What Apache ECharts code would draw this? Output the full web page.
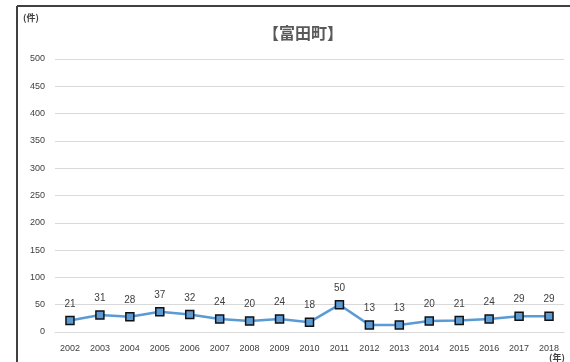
<!DOCTYPE html>
<html>
<head>
<meta charset="utf-8">
<script src="https://cdn.jsdelivr.net/npm/echarts@6/dist/echarts.min.js"></script>
<style>
  html, body { margin: 0; padding: 0; background: #fff; }
  #chart { width: 570px; height: 362px; }
</style>
</head>
<body>
<div id="chart"></div>
<script>
// 富田町 annual counts
const years = ['2002','2003','2004','2005','2006','2007','2008','2009','2010','2011','2012','2013','2014','2015','2016','2017','2018'];
const counts = [21, 31, 28, 37, 32, 24, 20, 24, 18, 50, 13, 13, 20, 21, 24, 29, 29];
const yTicks = [0, 50, 100, 150, 200, 250, 300, 350, 400, 450, 500];

const font = '"Liberation Sans", "Noto Sans CJK JP", sans-serif';
const chart = echarts.init(document.getElementById('chart'));

chart.setOption({
  animation: false,
  backgroundColor: '#ffffff',
  title: {
    text: '【富田町】',
    left: 298,
    top: 20,
    textAlign: 'center',
    textStyle: { fontFamily: '"Noto Sans CJK JP", sans-serif', fontSize: 16, fontWeight: 'bold', color: '#595959' }
  },
  grid: { left: 55, right: 6, top: 59, bottom: 30, containLabel: false },
  xAxis: {
    type: 'category',
    data: years,
    boundaryGap: true,
    axisLine: { lineStyle: { color: '#d9d9d9', width: 1 } },
    axisTick: { show: false },
    axisLabel: { color: '#404040', fontSize: 9, fontFamily: font, margin: 12, interval: 0 }
  },
  yAxis: {
    type: 'value',
    min: yTicks[0],
    max: yTicks[yTicks.length - 1],
    interval: 50,
    axisLine: { show: false },
    axisTick: { show: false },
    axisLabel: { color: '#404040', fontSize: 9, fontFamily: font, margin: 10 },
    splitLine: { lineStyle: { color: '#d9d9d9', width: 1 } }
  },
  series: [{
    type: 'line',
    data: counts,
    symbol: 'rect',
    symbolSize: 8,
    lineStyle: { color: '#5b9bd5', width: 2.5 },
    itemStyle: { color: '#5b9bd5', borderColor: '#111111', borderWidth: 1.5 },
    label: {
      show: true,
      position: 'top',
      distance: 7,
      color: '#404040',
      fontSize: 10,
      fontFamily: font
    }
  }],
  graphic: [
    { type: 'line', shape: { x1: 17, y1: 6, x2: 570, y2: 6 }, style: { stroke: '#404040', lineWidth: 2 } },
    { type: 'line', shape: { x1: 17, y1: 6, x2: 17, y2: 362 }, style: { stroke: '#404040', lineWidth: 2 } },
    { type: 'text', left: 23, top: 13, style: { text: '(件)', fontSize: 9, fontWeight: 'bold', fill: '#404040', fontFamily: '"Noto Sans CJK JP", sans-serif' } },
    { type: 'text', left: 549, top: 353, style: { text: '(年)', fontSize: 9, fontWeight: 'bold', fill: '#404040', fontFamily: '"Noto Sans CJK JP", sans-serif' } }
  ]
});
</script>
</body>
</html>
